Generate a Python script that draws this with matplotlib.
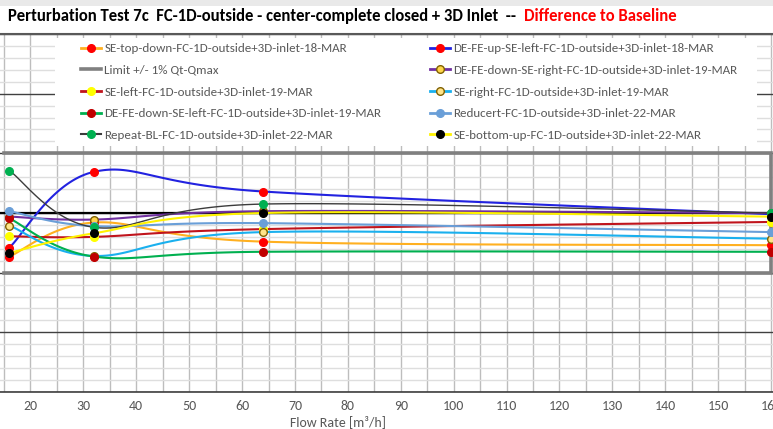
import matplotlib
matplotlib.use('Agg')
import matplotlib.pyplot as plt
from matplotlib.lines import Line2D
from matplotlib.patches import Rectangle
import numpy as np

plt.rcParams['font.family'] = ['Carlito', 'Lato', 'DejaVu Sans']

# flow rates of the measuring points [m3/h]
flow = [16, 32, 64, 160]

# deviation to baseline [%]
se_top_down = [-0.73, -0.16, -0.48, -0.54]
de_fe_up_se_left = [-0.58, 0.69, 0.36, -0.02]
de_fe_down_se_right = [-0.06, -0.11, 0.03, 0.0]
se_left = [-0.39, -0.40, -0.27, -0.15]
se_right = [-0.21, -0.72, -0.32, -0.43]
de_fe_down_se_left = [-0.09, -0.73, -0.65, -0.65]
reducert = [0.03, -0.22, -0.17, -0.32]
repeat_bl = [0.71, -0.24, 0.15, 0.0]
se_bottom_up = [-0.67, -0.34, 0.0, -0.06]

# limit +/- 1 %
limit_x = [15, 160, 160, 15]
limit_y = [1, 1, -1, -1]

xticks = list(range(20, 161, 10))


def smooth(xs, ys, n=40):
    # excel-like smoothed line (catmull-rom bezier)
    p = np.column_stack([xs, ys]).astype(float)
    p = np.vstack([p[0], p, p[-1]])
    out = []
    for i in range(1, len(p) - 2):
        p0, p1, p2, p3 = p[i - 1], p[i], p[i + 1], p[i + 2]
        c1 = p1 + (p2 - p0) / 6
        c2 = p2 - (p3 - p1) / 6
        t = np.linspace(0, 1, n)[:, None]
        seg = (1 - t) ** 3 * p1 + 3 * (1 - t) ** 2 * t * c1 + 3 * (1 - t) * t ** 2 * c2 + t ** 3 * p2
        out.append(seg)
    out = np.vstack(out)
    return out[:, 0], out[:, 1]


fig = plt.figure(figsize=(7.73, 4.29), dpi=100)
fig.patches.append(Rectangle((0, 1 - 6 / 429), 1, 6 / 429, transform=fig.transFigure,
                             facecolor='#e9e9e9', edgecolor='none'))
ax = fig.add_axes([0, 37 / 429, 1, 358 / 429])

ax.set_xlim(14.24, 160.37)
ax.set_ylim(-3, 3)
ax.set_xticks(xticks)
ax.set_xticks(list(range(15, 160, 10)), minor=True)
ax.set_yticks(np.arange(-3, 3.01, 1))
ax.set_yticks(np.arange(-3, 3.01, 0.2), minor=True)
ax.set_axisbelow(True)
ax.grid(axis='x', which='both', color='#bdbdbd', lw=1.0)
ax.grid(axis='y', which='minor', color='#dedede', lw=1.0)
ax.grid(axis='y', which='major', color='#404040', lw=1.0)
ax.axhline(0, color='black', lw=1.6, zorder=1.5)
ax.tick_params(axis='y', which='both', left=False, labelleft=False)
ax.tick_params(axis='x', which='both', length=0, labelsize=10, labelcolor='#595959', pad=6)
for s in ['left', 'right']:
    ax.spines[s].set_visible(False)
ax.spines['top'].set_color('#595959')
ax.spines['top'].set_linewidth(1.5)
ax.spines['bottom'].set_color('#404040')
ax.spines['bottom'].set_linewidth(1.2)

ax.set_xlabel('Flow Rate [m³/h]', fontsize=10, color='#595959')
ax.xaxis.set_label_coords(338 / 773, -0.064)

# white area behind the legend
ax.add_patch(Rectangle((55 / 773, 1 - 146 / 429), 702 / 773, 108 / 429, transform=fig.transFigure,
                       facecolor='white', edgecolor='none', zorder=2.2))

series = [
    ('SE-top-down-FC-1D-outside+3D-inlet-18-MAR', se_top_down, '#ffb020', 1.5, dict(mfc='#ff0000', mec='#ff0000')),
    ('DE-FE-up-SE-left-FC-1D-outside+3D-inlet-18-MAR', de_fe_up_se_left, '#2222e0', 1.5, dict(mfc='#ff0000', mec='#ff0000')),
    ('DE-FE-down-SE-right-FC-1D-outside+3D-inlet-19-MAR', de_fe_down_se_right, '#7030a0', 1.5, dict(mfc='#ffd54a', mec='#7f6000')),
    ('SE-left-FC-1D-outside+3D-inlet-19-MAR', se_left, '#c0141c', 1.5, dict(mfc='#ffff00', mec='#ffff00')),
    ('SE-right-FC-1D-outside+3D-inlet-19-MAR', se_right, '#1ab0ee', 1.5, dict(mfc='#ffe58a', mec='#806000')),
    ('DE-FE-down-SE-left-FC-1D-outside+3D-inlet-19-MAR', de_fe_down_se_left, '#00b050', 1.5, dict(mfc='#c00000', mec='#c00000')),
    ('Reducert-FC-1D-outside+3D-inlet-22-MAR', reducert, '#6a9fd8', 1.5, dict(mfc='#6a9fd8', mec='#6a9fd8')),
    ('Repeat-BL-FC-1D-outside+3D-inlet-22-MAR', repeat_bl, '#3c3c3c', 1.0, dict(mfc='#00b050', mec='#00b050')),
    ('SE-bottom-up-FC-1D-outside+3D-inlet-22-MAR', se_bottom_up, '#fff200', 1.5, dict(mfc='black', mec='black')),
]

handles = {}
for name, vals, col, lw, mk in series:
    sx, sy = smooth(flow, vals)
    ax.plot(sx, sy, color=col, lw=lw, zorder=3)
    ax.plot(flow, vals, ls='none', marker='o', ms=5.5, mew=1.0, zorder=4, **mk)
    handles[name] = Line2D([], [], color=col, lw=lw + 0.5, marker='o', ms=5.5, mew=1.0, **mk)

ax.plot(limit_x, limit_y, color='#808080', lw=2.6, zorder=2.8, solid_joinstyle='miter')
handles['Limit +/- 1% Qt-Qmax'] = Line2D([], [], color='#808080', lw=2.6)

col1 = ['SE-top-down-FC-1D-outside+3D-inlet-18-MAR', 'Limit +/- 1% Qt-Qmax',
        'SE-left-FC-1D-outside+3D-inlet-19-MAR', 'DE-FE-down-SE-left-FC-1D-outside+3D-inlet-19-MAR',
        'Repeat-BL-FC-1D-outside+3D-inlet-22-MAR']
col2 = ['DE-FE-up-SE-left-FC-1D-outside+3D-inlet-18-MAR', 'DE-FE-down-SE-right-FC-1D-outside+3D-inlet-19-MAR',
        'SE-right-FC-1D-outside+3D-inlet-19-MAR', 'Reducert-FC-1D-outside+3D-inlet-22-MAR',
        'SE-bottom-up-FC-1D-outside+3D-inlet-22-MAR']

leg_kw = dict(loc='upper left', frameon=False, fontsize=9.4, labelcolor='#595959', handlelength=1.55,
              handletextpad=0.25, labelspacing=0.81, borderpad=0, borderaxespad=0,
              bbox_transform=fig.transFigure)
leg1 = ax.legend([handles[n] for n in col1], col1, bbox_to_anchor=(81 / 773, 1 - 43 / 429), **leg_kw)
leg1.set_zorder(5)
ax.add_artist(leg1)
leg2 = ax.legend([handles[n] for n in col2], col2, bbox_to_anchor=(430 / 773, 1 - 43 / 429), **leg_kw)
leg2.set_zorder(5)

# title in two colours
t1 = fig.text(8 / 773, 1 - 16 / 429, 'Perturbation Test 7c  FC-1D-outside - center-complete closed + 3D Inlet  --  ',
              fontsize=12, fontweight='bold', color='black', va='center', ha='left')
fig.canvas.draw()
bb = t1.get_window_extent()
fig.text(bb.x1 / fig.bbox.width, 1 - 16 / 429, 'Difference to Baseline',
         fontsize=12, fontweight='bold', color='#ff0000', va='center', ha='left')

fig.savefig('out.png', dpi=100)
